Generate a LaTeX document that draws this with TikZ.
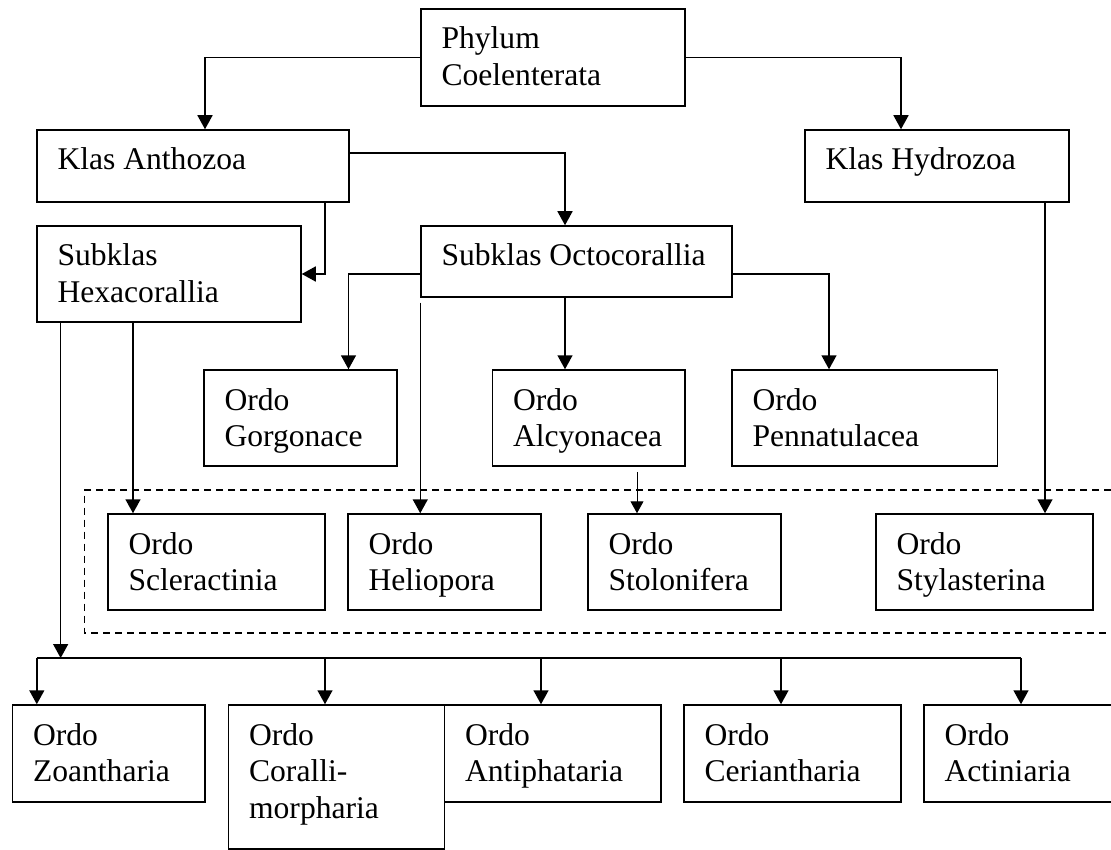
\documentclass[tikz,border=0pt]{standalone}
\usepackage{fontspec}
\setmainfont{Liberation Serif}
\usetikzlibrary{arrows.meta}
\newcommand\bxt[2]{\parbox[t]{#1}{#2}}
\begin{document}
\begin{tikzpicture}[x=1pt,y=-1pt,
  box/.style={draw, line width=1.5pt, rectangle, inner xsep=20.5pt, inner ysep=0pt,
    text height=40pt, font=\fontsize{31.6}{36.5}\selectfont},
  conn/.style={line width=1.5pt},
  arr/.style={line width=1.5pt, -{Triangle[length=14pt,width=15pt]}},
  thinarr/.style={line width=1pt, -{Triangle[length=12pt,width=13pt]}},
  dashbox/.style={line width=1.4pt, dash pattern=on 7pt off 5pt}]
\useasboundingbox (0,0) rectangle (1111,850);
\fill[white] (0,0) rectangle (1111,850);

% dashed grouping box
\draw[dashbox] (1135,490) -- (84.6,490) -- (84.6,633) -- (1135,633);

% nodes (text top-aligned: first baseline 40 below the top edge)
\node[box, text depth=57pt] (phy) at (553,57.5) {\bxt{223pt}{Phylum\\Coelenterata}};
\node[box, text depth=32pt] (anth) at (193,166) {\bxt{271pt}{Klas Anthozoa}};
\node[box, text depth=32pt] (hydro) at (937,166) {\bxt{223pt}{Klas Hydrozoa}};
\node[box, text depth=56pt] (hexa) at (169,274) {\bxt{223pt}{Subklas\\Hexacorallia}};
\node[box, text depth=31pt] (octo) at (576.5,261.5) {\bxt{270pt}{\mbox{Subklas Octocorallia}}};
\node[box, text depth=56pt] (gorg) at (300.5,418) {\bxt{152pt}{Ordo\\Gorgonace}};
\node[box, text depth=56pt] (alcy) at (588.75,418) {\bxt{151.5pt}{Ordo\\Alcyonacea}};
\node[box, text depth=56pt] (penn) at (864.75,418) {\bxt{224.5pt}{Ordo\\Pennatulacea}};
\node[box, text depth=56pt] (scler) at (216.5,562) {\bxt{176pt}{Ordo\\Scleractinia}};
\node[box, text depth=56pt] (helio) at (444.5,562) {\bxt{152pt}{Ordo\\Heliopora}};
\node[box, text depth=56pt] (stol) at (684.5,562) {\bxt{152pt}{Ordo\\Stolonifera}};
\node[box, text depth=56pt] (styl) at (984.5,562) {\bxt{176pt}{Ordo\\Stylasterina}};
\node[box, text depth=57pt] (zoan) at (108.75,753.5) {\bxt{151.5pt}{Ordo\\Zoantharia}};
\node[box, text depth=104pt] (coral) at (336.6,777) {\bxt{175pt}{Ordo\\Coralli-\\morpharia}};
\node[box, text depth=57pt] (antiph) at (552.8,753.5) {\bxt{175.4pt}{Ordo\\Antiphataria}};
\node[box, text depth=57pt] (ceri) at (792.5,753.5) {\bxt{176pt}{Ordo\\Ceriantharia}};
\node[box, text depth=57pt] (acti) at (1027,753.5) {\bxt{165pt}{Ordo\\Actiniaria}};

% connectors
\draw[arr] (phy.west) -| ([xshift=12pt]anth.north);
\draw[arr] (phy.east) -| ([xshift=-36pt]hydro.north);
\draw[arr] ([xshift=132pt]anth.south) |- (hexa.east);
\draw[arr] ([yshift=13pt]anth.east) -| ([xshift=-11.5pt]octo.north);
\draw[arr] ([yshift=-12.5pt]octo.west) -| ([xshift=48pt]gorg.north);
\draw[arr] ([xshift=-11.5pt]octo.south) -- ([xshift=-11.5pt]octo.south |- alcy.north);
\draw[arr] ([yshift=-12.5pt]octo.east) -| ([xshift=-35.75pt]penn.north);
\draw[arr] ([yshift=-5pt]octo.south west) -- (octo.south west |- helio.north);
\draw[arr] ([xshift=-36pt]hexa.south) -- ([xshift=-36pt]hexa.south |- scler.north);
\draw[thinarr] ([xshift=48.25pt,yshift=-5pt]alcy.south) -- ([xshift=48.25pt]alcy.south |- stol.north);
\draw[arr] ([xshift=108pt]hydro.south) -- ([xshift=108pt]hydro.south |- styl.north);

% Hexacorallia bus
\coordinate (busL) at (36.8,658);
\coordinate (busR) at (1021,658);
\draw[arr] ([xshift=24.4pt]hexa.south west) -- ([xshift=24.4pt]hexa.south west |- busL);
\draw[conn] (busL) -- (busR);
\draw[arr] (busL) -- (busL |- zoan.north);
\draw[arr] ([xshift=-11.6pt]coral.north |- busL) -- ([xshift=-11.6pt]coral.north);
\draw[arr] ([xshift=-11.8pt]antiph.north |- busL) -- ([xshift=-11.8pt]antiph.north);
\draw[arr] ([xshift=-11.5pt]ceri.north |- busL) -- ([xshift=-11.5pt]ceri.north);
\draw[arr] (busR) -- (busR |- acti.north);
\end{tikzpicture}
\end{document}
